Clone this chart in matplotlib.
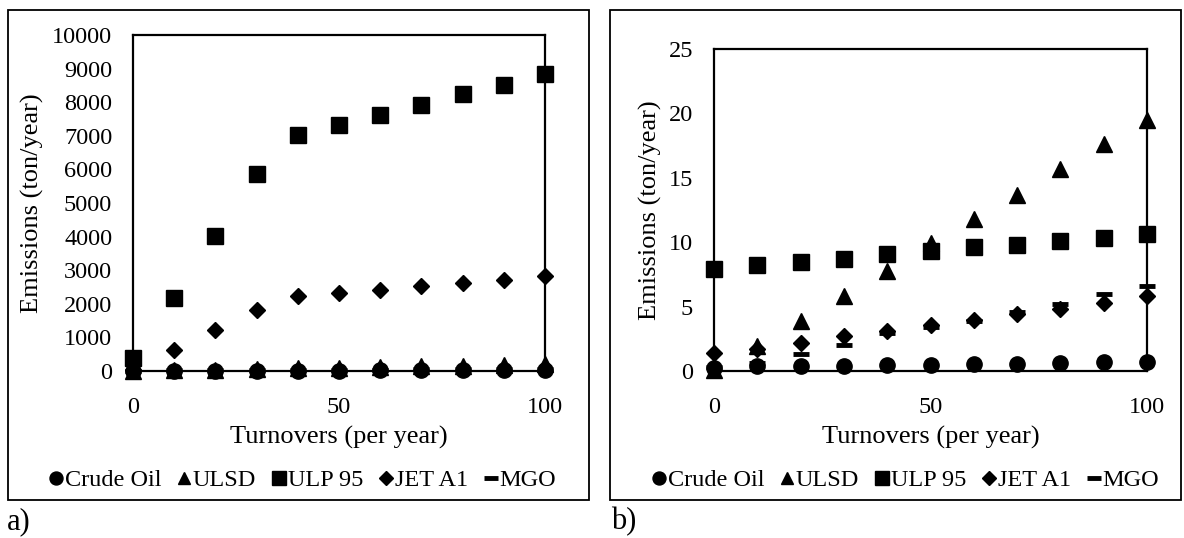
import matplotlib
matplotlib.use("Agg")
import matplotlib.pyplot as plt
from matplotlib.patches import Rectangle
from matplotlib.lines import Line2D

plt.rcParams['font.family'] = ['Liberation Serif', 'DejaVu Serif']
plt.rcParams['font.size'] = 17.5

turnovers = [0, 10, 20, 30, 40, 50, 60, 70, 80, 90, 100]

# panel a) values (ton/year)
crude_a = [0, 5, 8, 10, 12, 14, 16, 18, 20, 22, 25]
ulsd_a = [0, 20, 40, 60, 80, 100, 120, 140, 160, 180, 200]
ulp95_a = [380, 2180, 4010, 5850, 7030, 7330, 7610, 7930, 8250, 8520, 8850]
jet_a = [30, 630, 1220, 1820, 2230, 2330, 2410, 2540, 2620, 2720, 2820]
mgo_a = [10, 15, 20, 25, 30, 35, 40, 45, 50, 55, 60]

# panel b) values (ton/year)
crude_b = [0.25, 0.35, 0.38, 0.42, 0.46, 0.5, 0.55, 0.58, 0.62, 0.66, 0.72]
ulsd_b = [0.1, 1.95, 3.9, 5.8, 7.8, 9.9, 11.8, 13.7, 15.7, 17.6, 19.5]
ulp95_b = [7.9, 8.2, 8.5, 8.7, 9.1, 9.3, 9.6, 9.8, 10.1, 10.3, 10.6]
jet_b = [1.4, 1.7, 2.2, 2.7, 3.1, 3.6, 3.95, 4.4, 4.8, 5.3, 5.8]
mgo_b = [0.3, 0.65, 1.35, 2.0, 2.95, 3.4, 3.9, 4.6, 5.2, 5.95, 6.6]

series_names = ["Crude Oil", "ULSD", "ULP 95", "JET A1", "MGO"]
styles = {
    "Crude Oil": dict(marker="o", ms=11),
    "ULSD": dict(marker="^", ms=11),
    "ULP 95": dict(marker="s", ms=12),
    "JET A1": dict(marker="D", ms=8.5),
    "MGO": dict(marker="_", ms=12, mew=3.5),
}

W, H = 1184, 538
fig = plt.figure(figsize=(W / 100, H / 100), dpi=100)


def fx(px):
    return px / W


def fy(py):
    return 1 - py / H


# outer frames around each panel
for (l, t, r, b) in [(8, 10, 589, 500), (610, 10, 1181, 500)]:
    fig.patches.append(Rectangle((fx(l), fy(b)), fx(r - l), (b - t) / H,
                                 transform=fig.transFigure, fill=False,
                                 lw=1.3, ec="black"))


def panel(box, data, ylim, yticks, ylab_x, legend_x):
    l, t, r, b = box
    ax = fig.add_axes([fx(l), fy(b), fx(r - l), (b - t) / H])
    for name, vals in zip(series_names, data):
        st = styles[name]
        ax.plot(turnovers, vals, ls="none", color="black", marker=st["marker"],
                markersize=st["ms"], markeredgewidth=st.get("mew", 1),
                clip_on=False, zorder=3)
    ax.set_xlim(0, 100)
    ax.set_ylim(*ylim)
    ax.set_xticks([0, 50, 100])
    ax.set_yticks(yticks)
    ax.tick_params(length=0)
    ax.tick_params(axis="y", pad=15)
    ax.tick_params(axis="x", pad=19)
    for s in ax.spines.values():
        s.set_linewidth(1.6)
    ax.set_xlabel("Turnovers (per year)", fontsize=19, va="center")
    ax.set_ylabel("Emissions (ton/year)", fontsize=19, va="center")
    ax.xaxis.set_label_coords(0.5, (b - 437) / (b - t))
    ax.yaxis.set_label_coords((ylab_x - l) / (r - l), 0.5)
    handles = [Line2D([], [], ls="none", color="black", marker=styles[n]["marker"],
                      markersize=styles[n]["ms"] * 0.85,
                      markeredgewidth=styles[n].get("mew", 1))
               for n in series_names]
    ax.legend(handles, series_names, ncol=5, frameon=False, loc="center",
              bbox_to_anchor=(fx(legend_x), fy(480)), bbox_transform=fig.transFigure,
              handletextpad=0.0, columnspacing=0.6, handlelength=0.7,
              borderaxespad=0, fontsize=17.5)
    return ax


panel((133, 35, 545, 371), [crude_a, ulsd_a, ulp95_a, jet_a, mgo_a],
      (0, 10000), range(0, 10001, 1000), 32, 302)
panel((714, 49, 1147, 371), [crude_b, ulsd_b, ulp95_b, jet_b, mgo_b],
      (0, 25), range(0, 26, 5), 650, 905)

fig.text(fx(7), fy(522), "a)", ha="left", va="center", fontsize=22)
fig.text(fx(611), fy(522), "b)", ha="left", va="center", fontsize=22)

fig.savefig("out.png", dpi=100)
